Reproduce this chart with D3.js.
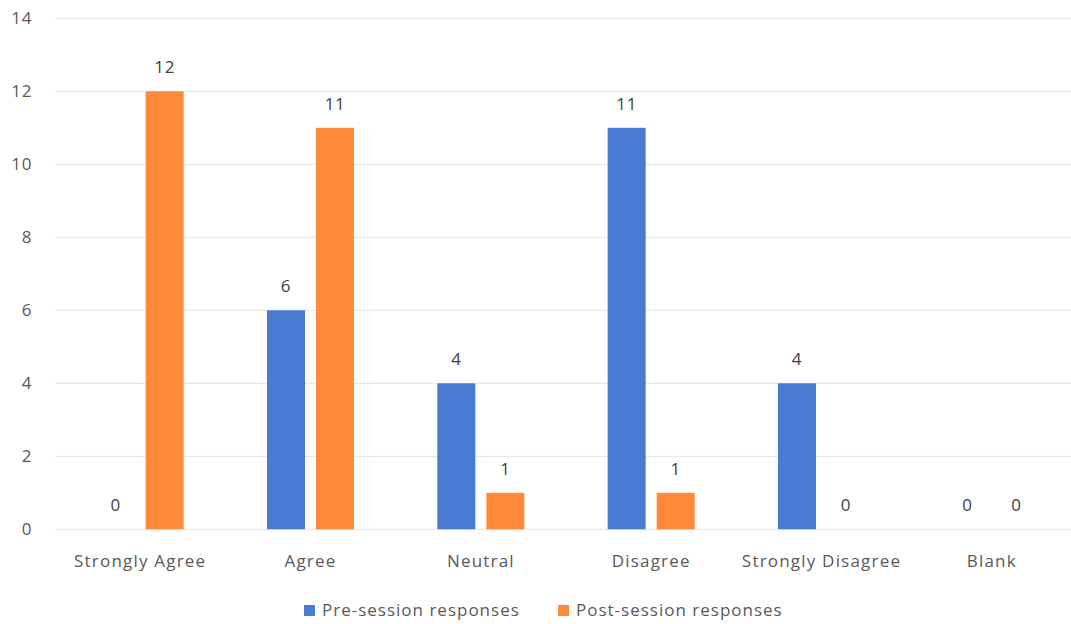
<!DOCTYPE html>
<html>
<head>
<meta charset="utf-8">
<script src="https://cdn.jsdelivr.net/npm/d3@7"></script>
<style>
  body { margin: 0; background: #fff; }
  svg text { font-family: "Open Sans", sans-serif; }
</style>
</head>
<body>
<svg id="chart"></svg>
<script>
// Survey responses
const categories = ['Strongly Agree', 'Agree', 'Neutral', 'Disagree', 'Strongly Disagree', 'Blank'];
const seriesNames = ['Pre-session responses', 'Post-session responses'];
const preValues = [0, 6, 4, 11, 4, 0];
const postValues = [12, 11, 1, 1, 0, 0];
const yTicks = [0, 2, 4, 6, 8, 10, 12, 14];
const colors = ['#4a7bd3', '#fe8a3a'];

const width = 1071, height = 624;
const margin = { top: 18, right: 0, bottom: 95, left: 55 };
const fontSize = '17px';

const data = categories.map((c, i) => ({ category: c, values: [preValues[i], postValues[i]] }));

const svg = d3.select('#chart')
  .attr('width', width)
  .attr('height', height);

const x = d3.scaleBand()
  .domain(categories)
  .range([margin.left, 1077]);

const xSub = d3.scaleBand()
  .domain(seriesNames)
  .range([0, x.bandwidth()])
  .paddingInner(0.2245)
  .paddingOuter(0.85);

const y = d3.scaleLinear()
  .domain([0, 14])
  .range([529.3, 18.3]);

// Gridlines
svg.append('g')
  .selectAll('line')
  .data(yTicks)
  .enter().append('line')
  .attr('x1', margin.left)
  .attr('x2', width)
  .attr('y1', d => y(d))
  .attr('y2', d => y(d))
  .attr('stroke', '#e3e3e3')
  .attr('stroke-width', 1);

// Y axis labels
const yAxis = svg.append('g')
  .attr('transform', 'translate(32,0)')
  .call(d3.axisLeft(y).tickValues(yTicks).tickSize(0).tickPadding(0));
yAxis.select('.domain').remove();
yAxis.selectAll('text')
  .attr('fill', '#595959')
  .style('font-size', fontSize)
  .style('letter-spacing', '0.6px')
  .style('font-family', '"Open Sans", sans-serif');

// X axis labels
const xAxis = svg.append('g')
  .attr('transform', `translate(0,${y(0)})`)
  .call(d3.axisBottom(x).tickSize(0).tickPadding(26));
xAxis.select('.domain').remove();
xAxis.selectAll('text')
  .attr('fill', '#595959')
  .style('font-size', fontSize)
  .style('letter-spacing', '1.2px')
  .style('font-family', '"Open Sans", sans-serif');

// Bars
const groups = svg.selectAll('.group')
  .data(data)
  .enter().append('g')
  .attr('class', 'group')
  .attr('transform', d => `translate(${x(d.category)},0)`);

groups.selectAll('rect')
  .data(d => d.values.map((v, i) => ({ series: seriesNames[i], value: v, i: i })))
  .enter().append('rect')
  .attr('x', d => xSub(d.series))
  .attr('width', xSub.bandwidth())
  .attr('y', d => y(d.value))
  .attr('height', d => y(0) - y(d.value))
  .attr('fill', d => colors[d.i]);

// Data labels
groups.selectAll('.label')
  .data(d => d.values.map((v, i) => ({ series: seriesNames[i], value: v })))
  .enter().append('text')
  .attr('class', 'label')
  .attr('x', d => xSub(d.series) + xSub.bandwidth() / 2)
  .attr('y', d => y(d.value) - 18)
  .attr('text-anchor', 'middle')
  .attr('fill', '#404040')
  .style('font-size', fontSize)
  .style('letter-spacing', '0.6px')
  .text(d => d.value);

// Legend
const legend = svg.append('g')
  .attr('transform', 'translate(304,605)');
const legendX = [0, 254];
seriesNames.forEach((name, i) => {
  legend.append('rect')
    .attr('x', legendX[i])
    .attr('y', 0)
    .attr('width', 11)
    .attr('height', 11)
    .attr('fill', colors[i]);
  legend.append('text')
    .attr('x', legendX[i] + 18)
    .attr('y', 11)
    .attr('fill', '#595959')
    .style('font-size', fontSize)
    .style('letter-spacing', '1px')
    .text(name);
});
</script>
</body>
</html>
